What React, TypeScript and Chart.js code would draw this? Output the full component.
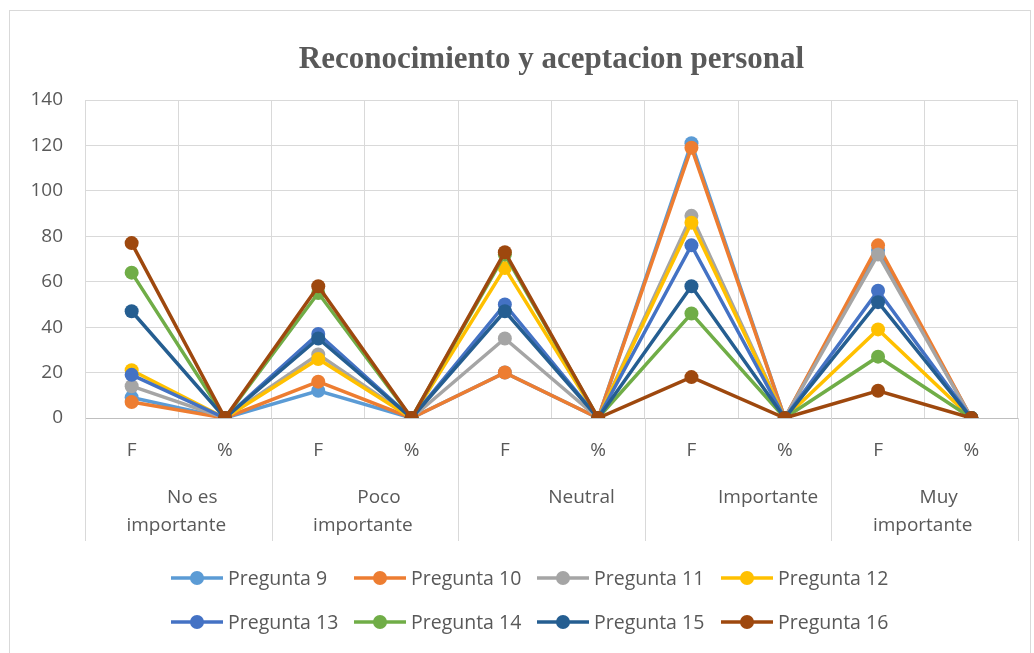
import React, { useEffect, useRef } from "react";
import { Chart, registerables } from "chart.js";

Chart.register(...registerables);

const chartTitle = "Reconocimiento y aceptacion personal";
const categories = ["F", "%", "F", "%", "F", "%", "F", "%", "F", "%"];
const groupLabels = [
  ["No es", "importante"],
  ["Poco", "importante"],
  ["Neutral"],
  ["Importante"],
  ["Muy", "importante"],
];
const seriesNames = [
  "Pregunta 9",
  "Pregunta 10",
  "Pregunta 11",
  "Pregunta 12",
  "Pregunta 13",
  "Pregunta 14",
  "Pregunta 15",
  "Pregunta 16",
];
const pregunta9 = [9, 0, 12, 0, 20, 0, 121, 0, 74, 0];
const pregunta10 = [7, 0, 16, 0, 20, 0, 119, 0, 76, 0];
const pregunta11 = [14, 0, 28, 0, 35, 0, 89, 0, 72, 0];
const pregunta12 = [21, 0, 26, 0, 66, 0, 86, 0, 39, 0];
const pregunta13 = [19, 0, 37, 0, 50, 0, 76, 0, 56, 0];
const pregunta14 = [64, 0, 55, 0, 72, 0, 46, 0, 27, 0];
const pregunta15 = [47, 0, 35, 0, 47, 0, 58, 0, 51, 0];
const pregunta16 = [77, 0, 58, 0, 73, 0, 18, 0, 12, 0];
const seriesValues = [
  pregunta9,
  pregunta10,
  pregunta11,
  pregunta12,
  pregunta13,
  pregunta14,
  pregunta15,
  pregunta16,
];
const seriesColors = [
  "#5B9BD5",
  "#ED7D31",
  "#A5A5A5",
  "#FFC000",
  "#4472C4",
  "#70AD47",
  "#255E91",
  "#9E480E",
];
const yMin = 0;
const yMax = 140;
const yStep = 20;

const TEXT = "#595959";
const GRID = "#d9d9d9";
const FONT = "'Open Sans', 'Noto Sans', sans-serif";

const decorPlugin = {
  id: "decor",
  afterDraw(chart: any) {
    const ctx = chart.ctx;
    const area = chart.chartArea;
    const xs = chart.scales.x;
    ctx.save();
    // outer border
    ctx.strokeStyle = GRID;
    ctx.lineWidth = 1;
    ctx.strokeRect(9.5, 10.5, 1021, 660);

    // title
    ctx.fillStyle = TEXT;
    ctx.font = "bold 31px 'Liberation Serif', 'Times New Roman', serif";
    ctx.textAlign = "center";
    ctx.textBaseline = "alphabetic";
    ctx.fillText(chartTitle, (area.left + area.right) / 2, 68);

    // group separators and labels
    const half = (xs.getPixelForValue(1) - xs.getPixelForValue(0)) / 2;
    ctx.strokeStyle = GRID;
    ctx.lineWidth = 1;
    for (let g = 0; g <= groupLabels.length; g++) {
      const x = Math.round(xs.getPixelForValue(g * 2) - half) + 0.5;
      ctx.beginPath();
      ctx.moveTo(x, area.bottom);
      ctx.lineTo(x, 541);
      ctx.stroke();
    }
    ctx.font = `19px ${FONT}`;
    ctx.fillStyle = TEXT;
    ctx.textBaseline = "middle";
    groupLabels.forEach((lines, g) => {
      const cx = (xs.getPixelForValue(g * 2) + xs.getPixelForValue(g * 2 + 1)) / 2;
      lines.forEach((ln, i) => {
        const shift = i === 0 ? (lines.length === 1 ? 30 : 14) : -2;
        ctx.fillText(ln, cx + shift, 498 + i * 28);
      });
    });

    // legend
    const colX = [171, 354, 537, 721];
    const rowY = [578, 622];
    ctx.textAlign = "left";
    ctx.font = `19.5px ${FONT}`;
    chart.data.datasets.forEach((ds: any, i: number) => {
      const x = colX[i % 4];
      const y = rowY[Math.floor(i / 4)];
      ctx.strokeStyle = ds.borderColor;
      ctx.lineWidth = 3.5;
      ctx.beginPath();
      ctx.moveTo(x, y);
      ctx.lineTo(x + 52, y);
      ctx.stroke();
      ctx.fillStyle = ds.borderColor;
      ctx.beginPath();
      ctx.arc(x + 26, y, 7, 0, Math.PI * 2);
      ctx.fill();
      ctx.fillStyle = TEXT;
      ctx.fillText(ds.label, x + 57, y + 1);
    });
    ctx.restore();
  },
};

export default function App() {
  const ref = useRef<HTMLCanvasElement | null>(null);
  useEffect(() => {
    document.body.style.margin = "0";
    if (!ref.current) return;
    const chart = new Chart(ref.current, {
      type: "line",
      data: {
        labels: categories,
        datasets: seriesValues.map((vals, i) => ({
          label: seriesNames[i],
          data: vals,
          borderColor: seriesColors[i],
          backgroundColor: seriesColors[i],
          pointBackgroundColor: seriesColors[i],
          pointBorderColor: seriesColors[i],
          pointRadius: 7,
          pointBorderWidth: 0,
          borderWidth: 3.5,
          tension: 0,
          fill: false,
          order: seriesValues.length - 1 - i,
        })),
      },
      options: {
        responsive: false,
        maintainAspectRatio: false,
        animation: false,
        devicePixelRatio: 1,
        layout: { padding: { top: 100, right: 16, left: 0, bottom: 0 } },
        plugins: {
          legend: { display: false },
          title: { display: false },
          tooltip: { enabled: false },
        },
        scales: {
          x: {
            type: "category",
            offset: true,
            grid: { offset: true, color: GRID, drawTicks: false },
            border: { color: "#bfbfbf" },
            ticks: {
              color: TEXT,
              font: { size: 19, family: FONT },
              padding: 21,
              maxRotation: 0,
              autoSkip: false,
            },
            afterFit: (s: any) => {
              s.height = 235;
            },
          },
          y: {
            min: yMin,
            max: yMax,
            grid: { color: GRID, drawTicks: false },
            border: { display: false },
            ticks: {
              stepSize: yStep,
              color: TEXT,
              font: { size: 19, family: FONT },
              padding: 22,
            },
            afterFit: (s: any) => {
              s.width = 85;
            },
          },
        },
      },
      plugins: [decorPlugin],
    });
    return () => chart.destroy();
  }, []);
  return <canvas ref={ref} width={1034} height={653} style={{ display: "block" }} />;
}
